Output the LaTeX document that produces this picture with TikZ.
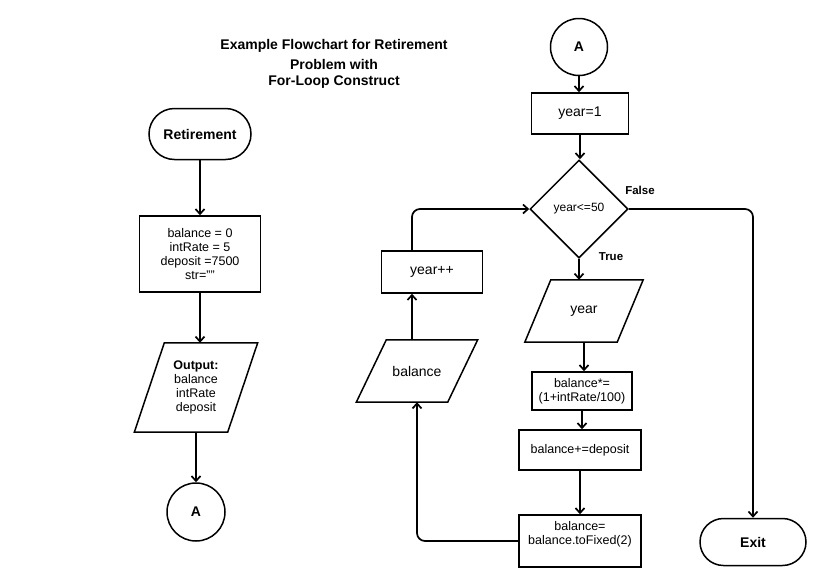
\documentclass[tikz,border=0pt]{standalone}
\usepackage{fontspec}
\setmainfont{Liberation Sans}
\usetikzlibrary{shapes.geometric,shapes.misc,arrows.meta}
\newcommand\fsbig{\fontsize{14}{16}\selectfont}
\newcommand\fsmid{\fontsize{12.5}{14}\selectfont}
\newcommand\fssml{\fontsize{12}{14}\selectfont}
\newcommand\fslbl{\fontsize{11.5}{13}\selectfont\bfseries}
\newcommand\drawpara[2]{\draw[outl] ([xshift=#2]#1.north west) -- ([xshift=#2]#1.north east) -- ([xshift=-#2]#1.south east) -- ([xshift=-#2]#1.south west) -- cycle;}
\tikzset{
  outl/.style={draw, line width=1.5pt},
  box/.style={outl, rectangle, inner sep=0pt, align=center},
  term/.style={outl, rounded rectangle, inner sep=0pt, font=\fsbig\bfseries},
  conn/.style={outl, circle, inner sep=0pt, minimum size=58pt, font=\fsbig\bfseries},
  dec/.style={outl, diamond, inner sep=0pt, font=\fssml},
  io/.style={rectangle, inner sep=0pt, align=center},
  arr/.style={line width=1.7pt, -{Straight Barb[length=5pt,width=9pt]}},
  lbl/.style={inner sep=0pt, font=\fslbl}
}
\begin{document}
\begin{tikzpicture}[x=1pt,y=-1pt]
\useasboundingbox (0,0) rectangle (831,587);
% title
\node[align=center, font=\fsbig\bfseries, inner sep=0pt] (title) at (334,64)
  {Example Flowchart for Retirement\\[4pt]Problem with\\For-Loop Construct};
% left column
\node[term, minimum width=102pt, minimum height=51pt] (ret) at (200,134) {Retirement};
\node[box, minimum width=121pt, minimum height=76pt, font=\fsmid] (init) at (200,254)
  {balance = 0\\ intRate = 5\\ deposit =7500\\str=""};
\node[io, minimum width=93pt, minimum height=89pt, font=\fsmid] (out) at (196,387.5)
  {\textbf{Output:}\\balance\\intRate\\deposit};
\drawpara{out}{15pt}
\node[conn] (a1) at (196,512) {A};
\draw[arr] (ret.south) -- (ret.south |- init.north);
\draw[arr] (init.south) -- (init.south |- out.north);
\draw[arr] (out.south) -- (out.south |- a1.north);
% right column
\node[conn, minimum size=57pt] (a2) at (579,47) {A};
\node[box, minimum width=97pt, minimum height=41pt, font=\fsbig] (y1) at (580,113.5) {year=1};
\node[dec, minimum width=98pt, minimum height=98pt] (dia) at (579,209) {year<=50};
\node[io, minimum width=92pt, minimum height=62pt, font=\fsbig] (yr) at (584,311) {year};
\drawpara{yr}{13pt}
\node[box, minimum width=100pt, minimum height=38pt, font=\fsmid] (b1) at (582,391)
  {balance*=\\(1+intRate/100)};
\node[box, minimum width=122pt, minimum height=40pt, font=\fsmid] (b2) at (580,450)
  {balance+=deposit};
\node[box, minimum width=122pt, minimum height=52pt, font=\fsmid] (b3) at (580,541)
  {\raisebox{6pt}[\height][\depth]{\begin{tabular}{@{}c@{}}balance=\\balance.toFixed(2)\end{tabular}}};
\node[term, minimum width=106pt, minimum height=47pt] (exit) at (753,542) {Exit};
\node[box, minimum width=101pt, minimum height=42pt, font=\fsbig] (yp) at (432,272) {year++};
\node[io, minimum width=91pt, minimum height=62pt, font=\fsbig] (bal) at (417,371) {balance};
\drawpara{bal}{15pt}
\node[lbl] (lf) at (640,190) {False};
\node[lbl] (lt) at (611,257) {True};
% connectors
\draw[arr] (a2.south) -- (a2.south |- y1.north);
\draw[arr] (y1.south) -- (y1.south |- dia.north);
\draw[arr] (dia.south) -- (dia.south |- yr.north);
\draw[arr] (yr.south) -- (yr.south |- b1.north);
\draw[arr] (b1.south) -- (b1.south |- b2.north);
\draw[arr] (b2.south) -- (b2.south |- b3.north);
\draw[arr, rounded corners=8pt] (dia.east) -| (exit.north);
\draw[arr, rounded corners=8pt] (b3.west) -| (bal.south);
\draw[arr] ([xshift=-5pt]bal.north) -- ([xshift=-5pt]bal.north |- yp.south);
\draw[arr, rounded corners=8pt] ([xshift=-5pt]bal.north |- yp.north) |- (dia.west);
\end{tikzpicture}
\end{document}
